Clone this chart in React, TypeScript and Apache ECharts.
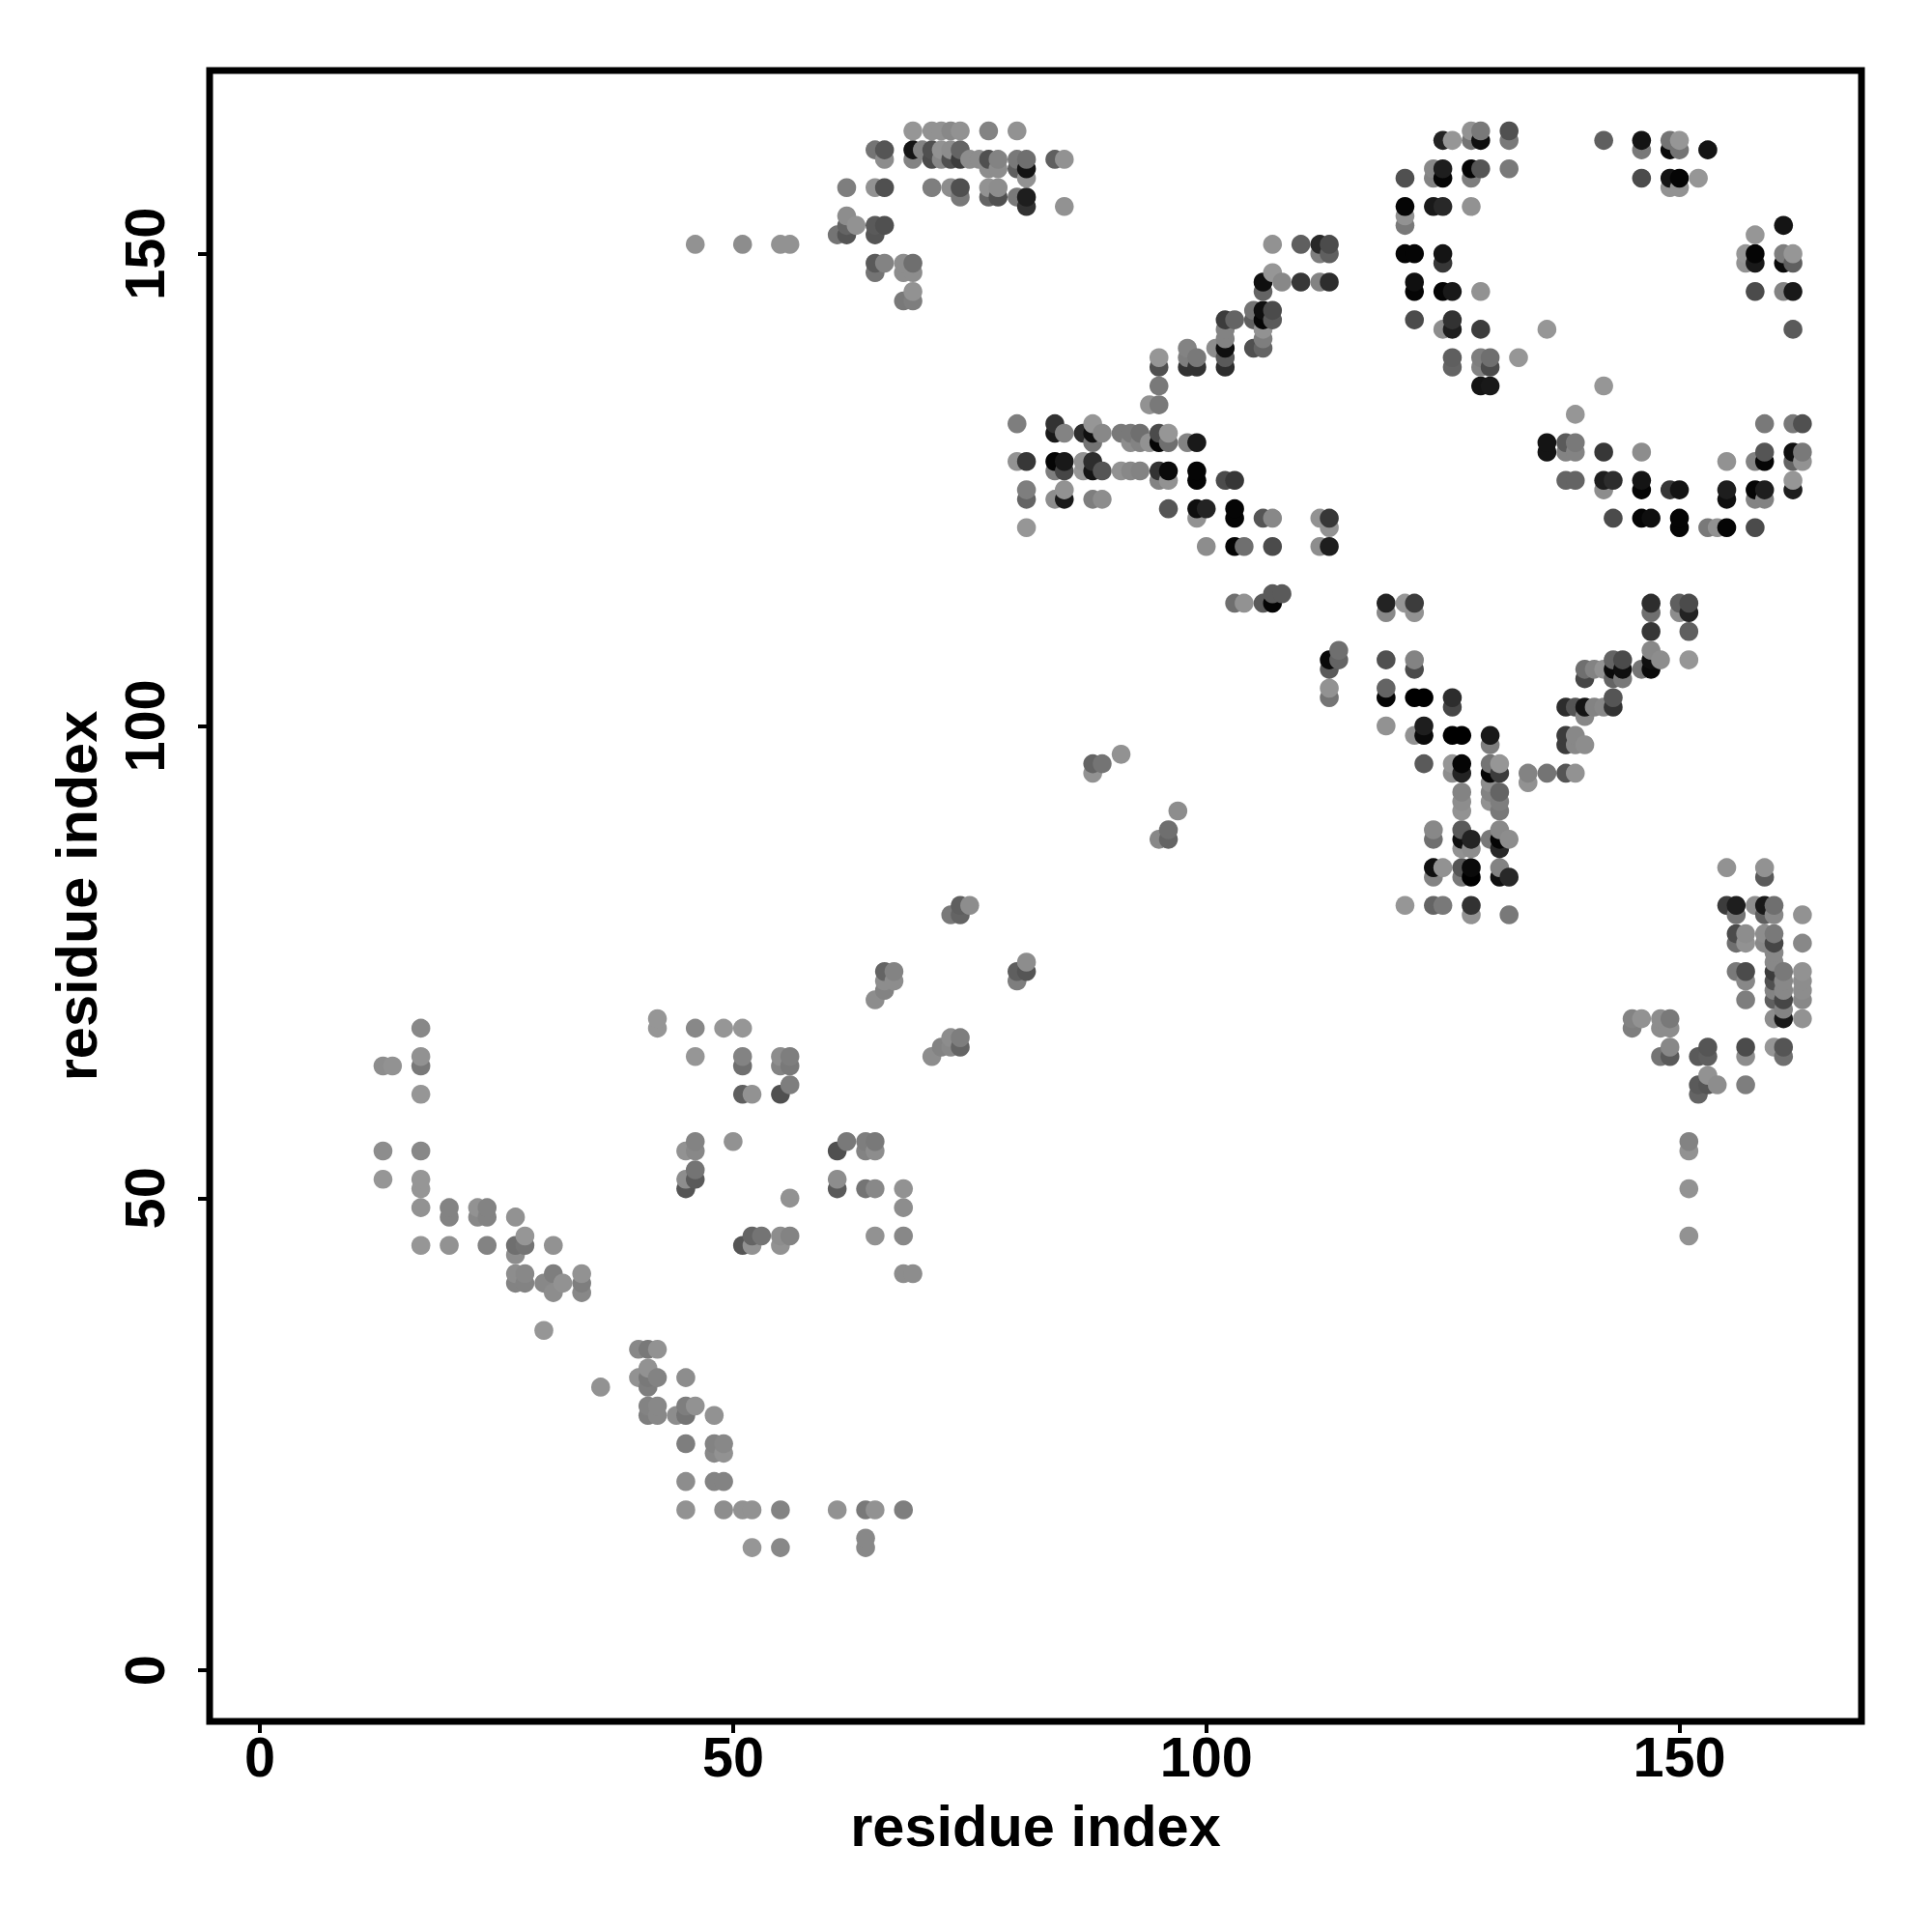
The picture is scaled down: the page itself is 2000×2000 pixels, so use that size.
import React, { useEffect, useRef } from "react";
import * as echarts from "echarts";

type C = [number, number, number];

const tickValues = [0, 50, 100, 150];
const axisTitle = "residue index";

// [residue x, residue y, grey level of the dot]
const lowerLeft: C[] = [
  [17,68,130],[13,64,135],[14,64,140],[17,65,140],[17,64,115],[17,61,145],[13,55,135],[17,55,130],[13,52,145],[17,52,145],[17,51,145],[17,49,140],
  [20,49,125],[20,48,125],[23,49,140],[24,49,125],[23,48,130],[24,48,125],[27,48,140],[28,46,145],[27,45,105],[28,45,110],[27,44,135],[17,45,145],[20,45,140],[24,45,125],[31,45,140],
  [27,42,135],[28,42,130],[27,41,125],[28,41,125],[31,42,120],[30,41,130],[32,41,140],[31,40,135],[34,42,140],[34,41,120],[34,40,130],[30,36,145],
];
const midLeft: C[] = [
  [42,69,145],[42,68,145],[46,68,130],[49,68,145],[51,68,145],[46,65,145],[51,65,125],[51,64,105],[55,65,135],[56,65,120],[55,64,125],[56,64,115],[51,61,95],[52,61,140],[55,61,80],[56,62,120],
  [46,56,125],[45,55,140],[46,55,130],[50,56,140],[46,53,110],[45,52,135],[46,52,90],[45,51,85],[56,50,140],[51,45,85],[52,46,100],[53,46,110],[52,45,140],[55,46,135],[56,46,125],[55,45,140],
  [61,55,80],[62,56,115],[64,56,120],[65,56,115],[64,55,125],[65,55,135],[61,52,135],[61,51,90],[64,51,110],[65,51,130],[68,51,140],[68,49,135],[65,46,140],[68,46,130],[68,42,135],[69,42,135],
  [71,65,135],[72,66,125],[73,67,135],[74,67,120],[73,66,130],[74,66,100],
];
const bottomStrand: C[] = [
  [40,34,130],[41,34,115],[42,34,140],[41,32,140],[40,31,140],[41,31,115],[42,31,125],[41,30,120],[36,30,140],[45,31,135],[41,28,125],[42,28,130],[41,27,120],[42,27,130],
  [45,28,120],[46,28,140],[44,27,135],[45,27,110],[48,27,140],[45,24,120],[48,24,125],[49,24,130],[48,23,130],[49,23,140],[45,20,135],[48,20,125],[49,20,125],
  [45,17,140],[49,17,135],[51,17,140],[52,17,140],[55,17,125],[61,17,140],[64,17,115],[65,17,140],[68,17,120],[52,13,145],[55,13,130],[64,14,130],[64,13,130],
];
const diagonal: C[] = [
  [91,97,140],[88,96,100],[89,96,110],[88,95,140],[97,91,135],[96,89,105],[95,88,130],[96,88,100],[75,81,135],[74,81,95],[73,80,115],[74,80,100],
  [81,75,135],[80,74,95],[81,74,85],[80,73,120],[67,74,125],[66,74,100],[67,73,135],[66,73,135],[66,72,125],[65,71,135],
];
const topMiddle: C[] = [
  [69,163,145],[71,163,140],[72,163,140],[73,163,130],[74,163,140],[77,163,125],[80,163,140],
  [65,161,110],[66,161,85],[69,161,20],[70,161,125],[71,161,80],[72,161,140],[73,161,135],[74,161,100],
  [66,160,135],[69,160,125],[71,160,75],[72,160,130],[73,160,80],[74,160,60],[75,160,135],[76,160,135],[77,160,80],[78,160,125],[80,160,115],[81,160,105],[84,160,95],[85,160,140],
  [77,159,135],[78,159,135],[80,159,95],[81,159,20],[81,158,140],
  [62,157,120],[65,157,140],[66,157,80],[71,157,120],[73,157,135],[74,157,80],[77,157,140],[78,157,135],[74,156,115],[77,156,100],[78,156,80],[80,156,115],[81,156,30],[81,155,50],[85,155,140],
  [62,154,135],[63,153,140],[62,153,100],[61,152,110],[62,152,85],[65,153,90],[66,153,80],[65,152,85],
  [46,151,140],[51,151,135],[55,151,140],[56,151,140],[65,149,90],[66,149,125],[65,148,110],[68,149,135],[69,149,105],[68,148,135],[69,148,135],[69,146,140],[68,145,115],[69,145,120],
];
const upperStrand: C[] = [
  [107,151,140],[110,151,95],[112,151,40],[113,151,75],[112,150,120],[113,150,95],[106,147,15],[107,148,145],[108,147,130],[110,147,55],[112,147,125],[113,147,45],[106,146,100],
  [105,144,110],[106,144,15],[107,144,75],[105,143,95],[106,143,5],[107,143,90],[106,142,140],[106,141,120],[105,140,80],[106,140,100],[102,143,60],[103,143,100],
  [102,142,125],[102,141,125],[102,140,15],[101,140,135],[102,139,90],[102,138,45],[98,140,125],[98,139,120],[99,139,115],[98,138,50],[99,138,50],[95,139,145],[95,138,80],[95,136,115],[94,134,140],[95,134,115],
];
const centreBand: C[] = [
  [80,132,120],[84,132,50],[84,131,25],[85,131,125],[87,131,45],[88,132,145],[88,131,15],[89,131,130],[88,130,110],[91,131,115],[92,131,115],[93,131,105],[92,130,135],[93,130,125],[94,130,140],
  [95,131,75],[96,131,145],[95,130,5],[96,130,105],[98,130,125],[99,130,25],
  [80,128,140],[81,128,55],[84,128,5],[85,128,25],[84,127,120],[85,127,70],[87,128,140],[87,127,145],[88,128,45],[88,127,20],[89,127,85],[91,127,140],[92,127,130],[93,127,125],
  [95,127,50],[96,127,10],[95,126,125],[96,126,140],[99,127,5],[99,126,5],[102,126,75],[103,126,55],[81,125,120],[81,124,100],[85,125,140],[84,124,135],[85,124,25],[88,124,120],[89,124,135],
  [96,123,85],[99,123,15],[100,123,35],[99,122,140],[103,123,5],[103,122,5],[106,122,85],[107,122,130],[112,122,140],[113,122,55],[113,121,140],[81,121,145],
  [100,119,135],[103,119,5],[104,119,105],[107,119,75],[112,119,135],[113,119,30],[103,113,105],[104,113,140],[106,113,90],[107,113,5],[107,114,90],[108,114,90],
];
const topRightArc: C[] = [
  [125,162,35],[126,162,145],[128,163,140],[129,163,115],[128,162,110],[129,162,15],[132,163,80],[132,162,115],[142,162,95],[146,162,20],[146,161,115],
  [121,158,80],[124,159,130],[125,159,30],[124,158,125],[125,158,5],[128,159,5],[129,159,85],[128,158,120],[132,159,115],[146,158,75],
  [121,155,5],[124,155,25],[125,155,40],[128,155,140],[121,154,140],[121,153,115],[121,150,5],[122,150,5],[125,150,20],[125,149,55],
  [122,147,15],[122,146,5],[125,146,5],[126,146,25],[129,146,140],[122,143,75],[125,142,135],[126,143,50],[126,142,30],[129,142,60],[136,142,145],
  [126,139,95],[126,138,100],[129,139,120],[130,139,105],[129,138,125],[130,138,75],[133,139,145],[129,136,20],[130,136,25],[142,136,145],
  [149,162,110],[150,162,145],[149,161,10],[150,161,110],[153,161,20],[149,158,20],[150,158,5],[152,158,145],[149,157,140],[150,157,140],
  [161,153,20],[158,152,145],[157,150,145],[158,150,5],[157,149,140],[158,149,25],[161,150,120],[162,150,145],[161,149,10],[162,149,95],[158,146,75],[161,146,125],[162,146,25],[162,142,90],
];
const rightBand: C[] = [
  [139,133,145],[159,132,115],[162,132,115],[163,132,80],[136,130,20],[136,129,20],[138,130,90],[139,130,115],[138,129,125],[139,129,125],[142,129,55],[146,129,135],
  [155,128,140],[158,128,125],[159,129,85],[159,128,5],[162,129,15],[163,129,115],[162,128,100],[163,128,140],[138,126,100],[139,126,100],[142,126,30],[143,126,45],[142,125,135],
  [146,126,20],[146,125,5],[149,125,55],[150,125,20],[155,125,30],[155,124,15],[158,125,5],[159,125,30],[158,124,125],[159,124,125],[162,126,145],[162,125,30],
  [143,122,75],[146,122,5],[147,122,15],[150,122,5],[150,121,5],[153,121,115],[154,121,140],[155,121,5],[158,121,75],
];
const vShape: C[] = [
  [119,113,35],[119,112,130],[121,113,145],[122,113,60],[122,112,140],[147,113,45],[147,112,105],[150,113,95],[151,113,75],[150,112,135],[151,112,35],[147,110,55],[151,110,95],
  [114,108,105],[113,107,10],[114,107,100],[113,106,90],[113,104,140],[113,103,110],[119,107,80],[122,107,125],[122,106,75],[119,104,100],[119,103,5],[122,103,0],[123,103,0],[126,103,45],[126,102,70],
  [119,100,140],[122,99,140],[123,100,30],[123,99,10],[126,99,0],[127,99,0],[130,99,25],[130,98,120],[123,96,90],[126,95,135],[126,96,145],[127,96,5],[127,95,35],
  [130,96,110],[131,96,145],[130,95,5],[131,95,60],[134,95,125],[134,94,140],[136,95,110],[138,95,85],[139,95,140],[127,93,125],[127,92,135],[127,91,140],
  [130,94,135],[130,93,125],[130,92,140],[131,93,100],[131,92,120],[131,91,115],[124,89,130],[124,88,105],[127,89,90],[127,88,15],[128,88,35],[127,87,140],[128,87,135],
  [130,88,115],[131,89,130],[131,88,5],[132,88,135],[131,87,40],[124,85,15],[125,85,140],[124,84,125],[127,85,85],[128,85,10],[127,84,115],[128,84,0],[131,85,125],[131,84,15],[132,84,40],
  [121,81,145],[124,81,100],[125,81,115],[128,81,50],[128,80,140],[132,80,115],
  [138,102,45],[139,102,85],[140,102,20],[141,102,125],[142,102,130],[143,102,50],[143,103,85],[140,101,130],[138,99,60],[138,98,60],[139,99,130],[139,98,130],[140,98,135],
  [140,106,105],[141,106,125],[142,106,140],[140,105,70],[143,107,100],[144,107,75],[143,106,10],[144,106,15],[143,105,100],[144,105,115],[146,106,110],[147,108,130],[148,107,135],[147,107,15],[147,106,10],[151,107,145],
];
const lowerRight: C[] = [
  [155,85,140],[159,85,140],[159,84,90],[155,81,60],[156,81,30],[156,80,110],[158,81,135],[159,81,25],[160,81,105],[159,80,95],[160,80,130],[163,80,140],
  [156,78,75],[157,78,135],[156,77,105],[157,77,140],[159,78,135],[160,78,115],[159,77,130],[160,77,70],[163,77,130],[160,76,130],[160,75,130],
  [156,74,115],[157,74,75],[157,73,130],[160,74,60],[161,74,115],[160,73,80],[161,73,130],[160,72,125],[161,72,130],[160,71,95],[161,71,70],[161,70,125],[161,69,25],[160,69,135],
  [163,74,140],[163,73,135],[163,72,135],[163,71,130],[163,69,140],[157,71,120],[145,69,125],[146,69,140],[145,68,120],[148,69,135],[149,69,115],[148,68,135],[149,68,135],
  [148,65,110],[149,66,130],[149,65,90],[152,65,90],[153,66,85],[153,65,95],[157,66,75],[157,65,135],[160,66,145],[161,66,85],[161,65,105],
  [153,63,140],[152,62,90],[153,62,85],[154,62,135],[152,61,100],[157,62,120],[151,56,125],[151,55,140],[151,51,140],[151,46,140],
];

const contacts: C[] = [
  ...lowerLeft, ...midLeft, ...bottomStrand, ...diagonal, ...topMiddle, ...upperStrand,
  ...centreBand, ...topRightArc, ...rightBand, ...vShape, ...lowerRight,
].sort((a, b) => a[0] - b[0] || a[1] - b[1]);

const FONT = "Liberation Sans";

export default function App() {
  const ref = useRef<HTMLDivElement>(null);
  useEffect(() => {
    const chart = echarts.init(ref.current!, undefined, { renderer: "svg" });
    const axisCommon = {
      type: "value" as const,
      name: axisTitle,
      nameLocation: "middle" as const,
      nameTextStyle: { fontFamily: FONT, fontWeight: "bold" as const, fontSize: 59.5, color: "#000" },
      splitLine: { show: false },
      axisLine: { show: true, onZero: false, lineStyle: { color: "#000", width: 6 } },
      axisTick: { show: true, inside: false, length: 12, customValues: tickValues, lineStyle: { color: "#000", width: 4 } },
    };
    const labelCommon = { show: true, customValues: tickValues, fontFamily: FONT, fontWeight: "bold" as const, fontSize: 57.6, color: "#000" };
    chart.setOption({
      animation: false,
      backgroundColor: "#fff",
      grid: { show: true, left: 217, top: 73, width: 1710, height: 1709, borderColor: "#000", borderWidth: 7, backgroundColor: "transparent", containLabel: false },
      xAxis: { ...axisCommon, position: "bottom", min: -5.32, max: 169.24, nameGap: 78, axisLabel: { ...labelCommon, margin: 8 } },
      yAxis: { ...axisCommon, position: "left", min: -5.4, max: 169.4, nameGap: 108, axisLabel: { ...labelCommon, margin: 67, rotate: 90, align: "center", verticalAlign: "middle" } },
      series: [
        {
          type: "scatter",
          symbol: "circle",
          symbolSize: 19.6,
          silent: true,
          data: contacts.map(([x, y, g]) => {
            const shade = g > 100 ? Math.min(150, g + 6) : g;
            return { value: [x, y], itemStyle: { color: `rgb(${shade},${shade},${shade})`, opacity: 1 } };
          }),
        },
      ],
    });
    return () => chart.dispose();
  }, []);
  return <div ref={ref} style={{ position: "absolute", left: 0, top: 0, width: 2000, height: 2000 }} />;
}
